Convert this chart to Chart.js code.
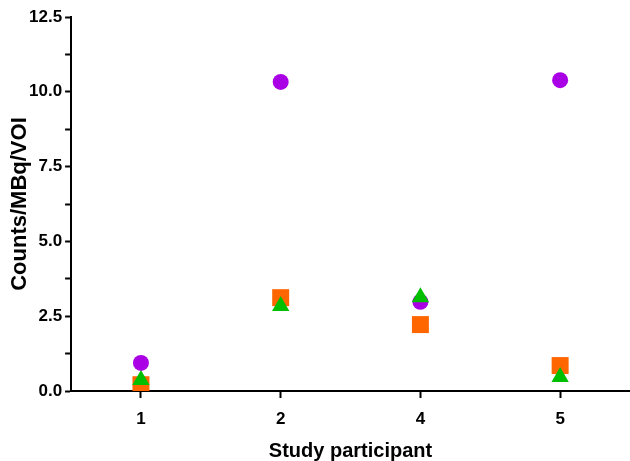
<!DOCTYPE html>
<html>
<head>
<meta charset="utf-8">
<script src="https://cdn.jsdelivr.net/npm/chart.js@4"></script>
<style>
  body { margin: 0; background: #fff; }
  #wrap { width: 630px; height: 461px; }
</style>
</head>
<body>
<div id="wrap"><canvas id="chart"></canvas></div>
<script>
// study participants on the x axis
var participants = ['1', '2', '4', '5'];
// three measurements per participant
var circleVals = [0.94, 10.33, 2.98, 10.39];
var squareVals = [0.21, 3.12, 2.22, 0.85];
var triangleVals = [0.37, 2.84, 3.13, 0.47];
var yTicks = [0, 2.5, 5, 7.5, 10, 12.5];

var black = '#000';
var fontFam = "'Liberation Sans', Arial, sans-serif";

// chart.js paints the first dataset on top, so triangles go first
var ctx = document.getElementById('chart').getContext('2d');
var chart = new Chart(ctx, {
    type: 'line',
    data: {
        labels: participants,
        datasets: [{
            label: 'triangle',
            data: triangleVals,
            pointStyle: 'triangle',
            pointRadius: 10,
            backgroundColor: 'rgb(0, 190, 0)',
            borderColor: 'rgb(0, 190, 0)',
            borderWidth: 0,
            showLine: false
        }, {
            label: 'square',
            data: squareVals,
            pointStyle: 'rect',
            pointRadius: 12,
            backgroundColor: 'rgb(255, 102, 0)',
            borderColor: 'rgb(255, 102, 0)',
            borderWidth: 0,
            showLine: false
        }, {
            label: 'circle',
            data: circleVals,
            pointStyle: 'circle',
            pointRadius: 8,
            backgroundColor: 'rgb(170, 0, 230)',
            borderColor: 'rgb(170, 0, 230)',
            borderWidth: 0,
            showLine: false
        }]
    },
    options: {
        responsive: true,
        maintainAspectRatio: false,
        animation: false,
        layout: { autoPadding: false, padding: { top: 17, right: 0, left: 0, bottom: 0 } },
        plugins: {
            legend: { display: false },
            tooltip: { enabled: false }
        },
        scales: {
            x: {
                type: 'category',
                offset: true,
                border: { color: black, width: 2 },
                grid: { drawOnChartArea: false, offset: false, tickLength: 7, tickColor: black, tickWidth: 2 },
                ticks: { color: black, font: { family: fontFam, size: 17, weight: 'bold', lineHeight: 1 }, padding: 13 },
                title: { display: true, text: 'Study participant', color: black, font: { family: fontFam, size: 20, weight: 'bold', lineHeight: 1 }, padding: { top: 0, bottom: 0 } }
            },
            y: {
                min: yTicks[0],
                max: yTicks[yTicks.length - 1],
                border: { color: black, width: 2 },
                grid: { drawOnChartArea: false, tickLength: 6, tickColor: black, tickWidth: 2 },
                ticks: {
                    stepSize: 1.25,
                    color: black,
                    padding: 3,
                    font: { family: fontFam, size: 17, weight: 'bold' },
                    callback: function (v) {
                        return yTicks.indexOf(v) >= 0 ? v.toFixed(1) : '';
                    }
                },
                title: { display: true, text: 'Counts/MBq/VOI', color: black, font: { family: fontFam, size: 22, weight: 'bold', lineHeight: 1 }, padding: { top: 9, bottom: -5 } }
            }
        }
    }
});
</script>
</body>
</html>
